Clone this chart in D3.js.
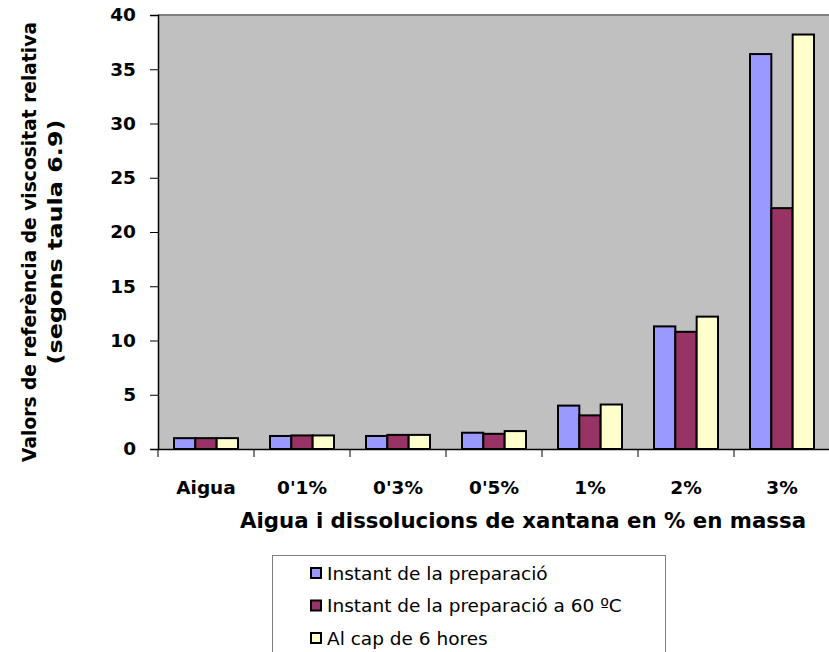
<!DOCTYPE html>
<html>
<head>
<meta charset="utf-8">
<script src="https://cdn.jsdelivr.net/npm/d3@7"></script>
<style>
  html, body { margin: 0; padding: 0; background: #fff; }
  svg { display: block; }
</style>
</head>
<body>
<svg id="chart" width="829" height="652"></svg>
<script>
// Categories and series values
const categories = ["Aigua", "0'1%", "0'3%", "0'5%", "1%", "2%", "3%"];
const seriesNames = ["Instant de la preparació", "Instant de la preparació a 60 ºC", "Al cap de 6 hores"];
const instant = [1.0, 1.2, 1.2, 1.5, 4.0, 11.3, 36.4];
const instant60 = [1.0, 1.25, 1.3, 1.4, 3.1, 10.8, 22.2];
const sixHours = [1.0, 1.25, 1.3, 1.65, 4.1, 12.2, 38.2];
const yTicks = [0, 5, 10, 15, 20, 25, 30, 35, 40];
const colors = ["#9999FF", "#993366", "#FFFFCC"];

const seriesValues = [instant, instant60, sixHours];
const svg = d3.select("#chart");
const font = "'DejaVu Sans', Verdana, sans-serif";

const plot = { left: 158, top: 15, right: 830, bottom: 449 };

const x = d3.scaleBand().domain(categories).range([plot.left, plot.right]).paddingInner(0).paddingOuter(0);
const x1 = d3.scaleBand().domain(d3.range(3)).range([0, x.bandwidth()]).paddingOuter(0.75).paddingInner(0);
const y = d3.scaleLinear().domain([0, 40]).range([plot.bottom, plot.top]);

// Plot area
svg.append("rect")
  .attr("x", plot.left).attr("y", plot.top)
  .attr("width", plot.right - plot.left).attr("height", plot.bottom - plot.top)
  .attr("fill", "#C0C0C0");
svg.append("line")
  .attr("x1", plot.left).attr("x2", plot.right)
  .attr("y1", plot.top).attr("y2", plot.top)
  .attr("stroke", "#808080").attr("stroke-width", 2);

// Bars
const groups = svg.append("g").selectAll("g")
  .data(categories)
  .join("g")
  .attr("transform", d => `translate(${x(d)},0)`);

groups.selectAll("rect")
  .data((d, i) => seriesValues.map((s, k) => ({ k, v: s[i] })))
  .join("rect")
  .attr("x", d => x1(d.k))
  .attr("y", d => y(d.v))
  .attr("width", x1.bandwidth())
  .attr("height", d => y(0) - y(d.v))
  .attr("fill", d => colors[d.k])
  .attr("stroke", "#000")
  .attr("stroke-width", 2);

// Y axis
const yAxis = svg.append("g")
  .attr("transform", `translate(${plot.left},0)`)
  .call(d3.axisLeft(y).tickValues(yTicks).tickSize(8).tickPadding(14));
yAxis.select(".domain").attr("stroke", "#000").attr("stroke-width", 1.5);
yAxis.selectAll(".tick line").attr("stroke", "#000");
yAxis.selectAll(".tick text")
  .attr("font-family", font).attr("font-size", 18.5).attr("font-weight", "bold").attr("fill", "#000");

// X axis
const xAxis = svg.append("g")
  .attr("transform", `translate(0,${plot.bottom})`)
  .call(d3.axisBottom(x).tickSize(0).tickPadding(32));
xAxis.select(".domain").attr("stroke", "#000").attr("stroke-width", 1.5);
xAxis.selectAll(".tick text")
  .attr("font-family", font).attr("font-size", 18.5).attr("font-weight", "bold").attr("fill", "#000");
// Category separators
svg.append("g").selectAll("line")
  .data(categories)
  .join("line")
  .attr("x1", d => x(d)).attr("x2", d => x(d))
  .attr("y1", plot.bottom).attr("y2", plot.bottom + 8)
  .attr("stroke", "#000");

// Axis titles
svg.append("text")
  .attr("x", 523).attr("y", 528)
  .attr("text-anchor", "middle")
  .attr("font-family", font).attr("font-size", 20.5).attr("font-weight", "bold")
  .attr("textLength", 566).attr("lengthAdjust", "spacingAndGlyphs")
  .text("Aigua i dissolucions de xantana en % en massa");

// Two-line rotated title, one text element per line
const yTitleLines = [
  { text: "Valors de referència de viscositat relativa", x: 36, len: 440 },
  { text: "(segons taula 6.9)", x: 62, len: 245 }
];
svg.append("g").selectAll("text")
  .data(yTitleLines)
  .join("text")
  .attr("transform", d => `translate(${d.x},242) rotate(-90)`)
  .attr("text-anchor", "middle")
  .attr("font-family", font).attr("font-size", 19.5).attr("font-weight", "bold")
  .attr("textLength", d => d.len).attr("lengthAdjust", "spacingAndGlyphs")
  .text(d => d.text);

// Legend
const legend = svg.append("g");
legend.append("rect")
  .attr("x", 272.5).attr("y", 555.5).attr("width", 393).attr("height", 110)
  .attr("fill", "#fff").attr("stroke", "#808080").attr("stroke-width", 1);
const items = legend.selectAll("g.item")
  .data(seriesNames)
  .join("g")
  .attr("class", "item")
  .attr("transform", (d, i) => `translate(310,${573 + i * 32.5})`);
items.append("rect")
  .attr("x", 1).attr("y", -5).attr("width", 10).attr("height", 10)
  .attr("fill", (d, i) => colors[i]).attr("stroke", "#000").attr("stroke-width", 2);
items.append("text")
  .attr("x", 17).attr("y", 6.5)
  .attr("font-family", font).attr("font-size", 18.5)
  .text(d => d);
</script>
</body>
</html>
